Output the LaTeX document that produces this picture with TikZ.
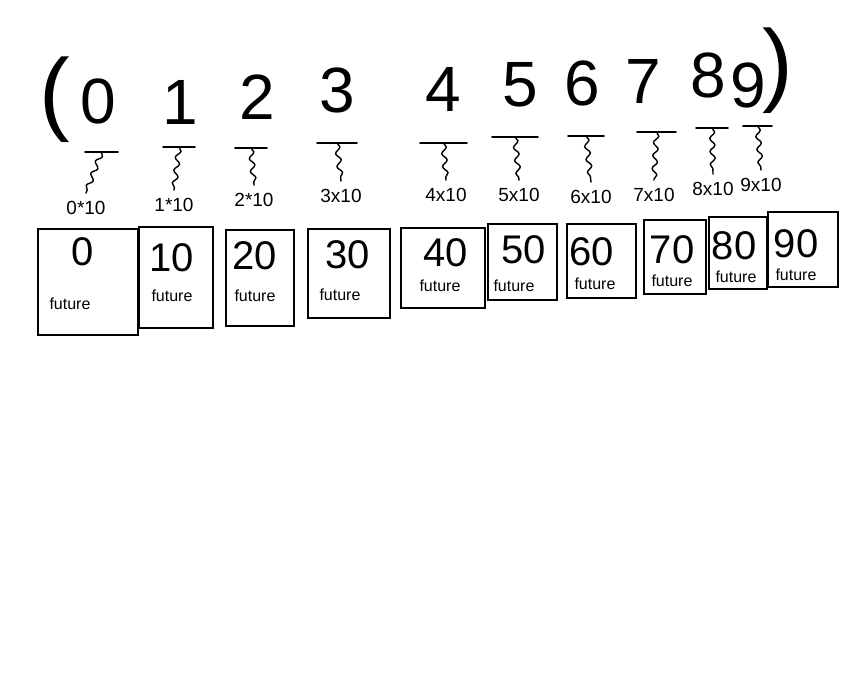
\documentclass[tikz,border=0pt]{standalone}
\usepackage{fontspec}
\setmainfont{Liberation Sans}
\usetikzlibrary{decorations.pathmorphing}
\tikzset{
  digit/.style={font=\fontsize{64}{64}\selectfont, inner sep=0pt},
  paren/.style={font=\fontsize{92}{92}\selectfont, inner sep=0pt},
  prod/.style={font=\fontsize{19}{19}\selectfont, inner sep=0pt},
  card/.style={draw, line width=1.6pt, inner sep=0pt},
  tens/.style={font=\fontsize{40}{40}\selectfont, inner sep=0pt},
  fut/.style={font=\fontsize{16}{16}\selectfont, inner sep=0pt},
  bar/.style={line width=1.6pt, line cap=round},
  squig/.style={line width=1.4pt, line cap=round, decorate,
    decoration={snake, amplitude=2.5pt, segment length=13pt}},
}
\begin{document}
\begin{tikzpicture}[x=1pt,y=-1pt]
  \useasboundingbox[fill=white] (0,0) rectangle (860,675);
  % the digits in brackets
  \node[paren] (lp) at (55,100) {(};
  \node[paren] (rp) at (778,71) {)};
  \foreach \i/\x/\y in {0/98/101, 1/180/102, 2/257/97, 3/337/90, 4/443/89,
      5/520/85, 6/582/83, 7/643/81, 8/708/75, 9/748/85}
    \node[digit] (d\i) at (\x,\y) {\i};
  % bars, squiggles and the products
  \foreach \i/\xa/\xb/\by/\lx/\ly/\lab in {0/85/118/152/86/208/{0*10},
      1/163/195/147/174/205/{1*10}, 2/235/267/148/254/200/{2*10},
      3/317/357/143/341/196/{3x10}, 4/420/467/143/446/195/{4x10},
      5/492/538/137/519/195/{5x10}, 6/568/604/136/591/197/{6x10},
      7/637/676/132/654/195/{7x10}, 8/696/728/128/713/189/{8x10},
      9/743/772/126/761/185/{9x10}}{
    \coordinate (l\i) at (\xa,\by);
    \coordinate (r\i) at (\xb,\by);
    \coordinate (p\i) at ({(\xa+\xb)/2},\by);
    \draw[bar] (l\i) -- (r\i);
    \node[prod] (m\i) at (\lx,\ly) {\lab};
    \draw[squig] (p\i) -- ([yshift=8pt]m\i.north);
  }
  % cards
  \foreach \v/\x/\y/\w/\h/\nx/\ny/\fx/\fy in {0/88/282/100/106/83/252/70/304,
      10/176/277.5/74/101/172/258/172/296, 20/260/278/68/96/255/256/255/296,
      30/349/273.5/82/89/348/255/340/295, 40/443/268/84/80/446/253/440/286,
      50/522.5/262/69/76/524/250/514/286, 60/601.5/261/69/74/592/252/595/284,
      70/675/257/62/74/672/250/672/281, 80/738/253/58/72/734/246/736/277,
      90/803/249.5/70/75/796/244/796/275}{
    \node[card, minimum width=\w pt, minimum height=\h pt] (c\v) at (\x,\y) {};
    \node[tens] (n\v) at (\nx,\ny) {\v};
    \node[fut] (f\v) at (\fx,\fy) {future};
  }
\end{tikzpicture}
\end{document}
